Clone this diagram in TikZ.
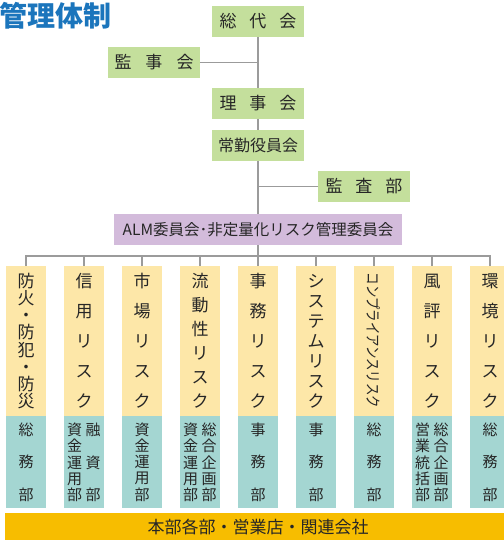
\documentclass[tikz,border=0pt]{standalone}
\usepackage{fontspec}
\setmainfont{Noto Sans CJK JP}
\definecolor{cgreen}{HTML}{C4DF9C}
\definecolor{cpurple}{HTML}{D3BBDB}
\definecolor{cyellow}{HTML}{FDE7A8}
\definecolor{cteal}{HTML}{A4D6D2}
\definecolor{corange}{HTML}{F7BD00}
\definecolor{ctitle}{HTML}{1B75BC}
\definecolor{cink}{HTML}{262626}
\definecolor{cline}{HTML}{9B9B9B}
\begin{document}
\begin{tikzpicture}[x=1pt,y=-1pt,
  every node/.style={inner sep=0pt, outer sep=0pt, text=cink},
  greenbox/.style={fill=cgreen, minimum width=92pt, minimum height=31pt, font=\fontsize{17}{20}\selectfont},
  purplebox/.style={fill=cpurple, minimum width=288pt, minimum height=31pt, font=\fontsize{15.5}{18}\selectfont},
  ycol/.style={fill=cyellow, minimum width=40pt, minimum height=150pt, align=center},
  tcol/.style={fill=cteal, minimum width=40pt, minimum height=92pt, align=center},
  tlab/.style={align=center},
  connector/.style={draw=cline, line width=1.2pt}
]
\useasboundingbox (0,0) rectangle (503,540);

% title
\node[anchor=west, text=ctitle, font=\fontsize{28}{30}\selectfont\bfseries] (title) at (-1,15.5) {管理体制};

% top boxes
\node[greenbox] (soudai) at (258,21.5) {総\hspace{13pt}代\hspace{13pt}会};
\node[greenbox] (kanji) at (154,62.5) {監\hspace{14pt}事\hspace{14pt}会};
\node[greenbox] (riji) at (258,103.5) {理\hspace{13pt}事\hspace{13pt}会};
\node[greenbox, font=\fontsize{16}{20}\selectfont] (joukin) at (258,145.5) {常勤役員会};
\node[greenbox] (kansa) at (364,186.5) {監\hspace{13pt}査\hspace{13pt}部};
\node[purplebox] (alm) at (258,229.5) {ALM委員会･非定量化リスク管理委員会};

% connectors top
\draw[connector] (soudai.south) -- (riji.north);
\draw[connector] (kanji.east) -- (kanji.east -| soudai.south);
\draw[connector] (riji.south) -- (joukin.north);
\draw[connector] (joukin.south) -- (alm.north);
\draw[connector] (kansa.west) -- (kansa.west -| joukin.south);
\coordinate (bus) at (258,256);
\draw[connector] (alm.south) -- (bus);

% columns: yellow
\node[ycol, font=\fontsize{17}{17.14}\selectfont] (y1) at (26,341) {防\\火\\・\\防\\犯\\・\\防\\災};
\node[ycol, font=\fontsize{17}{30}\selectfont] (y2) at (84,341) {信\\用\\リ\\ス\\ク};
\node[ycol, font=\fontsize{17}{30}\selectfont] (y3) at (142,341) {市\\場\\リ\\ス\\ク};
\node[ycol, font=\fontsize{17}{24}\selectfont] (y4) at (200,341) {流\\動\\性\\リ\\ス\\ク};
\node[ycol, font=\fontsize{17}{30}\selectfont] (y5) at (258,341) {事\\務\\リ\\ス\\ク};
\node[ycol, font=\fontsize{17}{20}\selectfont] (y6) at (316,341) {シ\\ス\\テ\\ム\\リ\\ス\\ク};
\node[ycol] (y7) at (374,341) {};
\node[rotate=-90, font=\fontsize{15.5}{16}\selectfont] (y7text) at (374,340.5) {\scalebox{0.8}[1]{コンプライアンスリスク}};
\node[ycol, font=\fontsize{17}{30}\selectfont] (y8) at (432,341) {風\\評\\リ\\ス\\ク};
\node[ycol, font=\fontsize{17}{30}\selectfont] (y9) at (490,341) {環\\境\\リ\\ス\\ク};

% columns: teal
\node[tcol, font=\fontsize{15}{32.5}\selectfont] (t1) at (26,462) {総\\務\\部};
\node[tcol] (t2) at (84,462) {};
\node[tlab, font=\fontsize{15}{16.25}\selectfont] (t2a) at (74.5,462.5) {資\\金\\運\\用\\部};
\node[tlab, font=\fontsize{15}{32.5}\selectfont] (t2b) at (93,462.5) {融\\資\\部};
\node[tcol, font=\fontsize{15}{16.25}\selectfont] (t3) at (142,462) {資\\金\\運\\用\\部};
\node[tcol] (t4) at (200,462) {};
\node[tlab, font=\fontsize{15}{16.25}\selectfont] (t4a) at (190.5,462.5) {資\\金\\運\\用\\部};
\node[tlab, font=\fontsize{15}{16.25}\selectfont] (t4b) at (209,462.5) {総\\合\\企\\画\\部};
\node[tcol, font=\fontsize{15}{32.5}\selectfont] (t5) at (258,462) {事\\務\\部};
\node[tcol, font=\fontsize{15}{32.5}\selectfont] (t6) at (316,462) {事\\務\\部};
\node[tcol, font=\fontsize{15}{32.5}\selectfont] (t7) at (374,462) {総\\務\\部};
\node[tcol] (t8) at (432,462) {};
\node[tlab, font=\fontsize{15}{16.25}\selectfont] (t8a) at (422.5,462.5) {営\\業\\統\\括\\部};
\node[tlab, font=\fontsize{15}{16.25}\selectfont] (t8b) at (441,462.5) {総\\合\\企\\画\\部};
\node[tcol, font=\fontsize{15}{32.5}\selectfont] (t9) at (490,462) {総\\務\\部};

% bus to columns
\foreach \c in {y1,y2,y3,y4,y5,y6,y7,y8,y9}
  \draw[connector] (bus) -| (\c.north);

% bottom bar
\node[fill=corange, minimum width=506pt, minimum height=27pt, font=\fontsize{17}{20}\selectfont] (bar) at (258,526.5) {本部各部・営業店・関連会社};
\end{tikzpicture}
\end{document}
